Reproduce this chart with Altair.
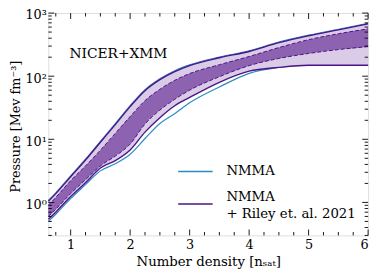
import altair as alt
import pandas as pd

# ---- data ----
n = [0.625, 0.75, 1.0, 1.25, 1.5, 1.75, 2.0, 2.25, 2.5, 2.75, 3.0, 3.5, 4.0, 4.5, 5.0, 5.5, 6.0]
outer_hi = [1.04, 1.38, 2.55, 4.70, 8.98, 17.1, 33.0, 59.0, 88.0, 118.0, 147, 196, 246, 340, 437, 542, 673]
inner_hi = [0.90, 1.20, 2.21, 3.79, 6.73, 12.4, 22.9, 41.0, 62.0, 86.0, 110.0, 152, 205, 284, 379, 470, 562]
inner_lo = [0.60, 0.78, 1.38, 2.29, 3.79, 5.42, 8.4, 17.5, 29.0, 43.0, 60.0, 98, 147, 191, 229, 264, 294]
outer_lo = [0.54, 0.70, 1.24, 2.05, 3.52, 4.60, 6.8, 13.0, 22.0, 34.0, 46.0, 80.0, 120, 138, 149, 149, 149]
nmma_lo = [0.50, 0.65, 1.15, 1.91, 3.16, 4.10, 5.8, 10.3, 17.8, 25.5, 37.8, 67.3, 111, 138, 149, 149, 149]
nmma_hi = [1.07, 1.42, 2.63, 4.85, 9.3, 17.7, 34.0, 61.0, 91.0, 122, 151, 201, 252, 348, 447, 555, 690]

series_names = ["NMMA", "NMMA", "+ Riley et. al. 2021"]
series_colors = ["#2b8cc4", "#4a1486"]

x_major = [1, 2, 3, 4, 5, 6]
x_minor = [0.75, 1.25, 1.5, 1.75, 2.25, 2.5, 2.75, 3.25, 3.5, 3.75, 4.25, 4.5, 4.75, 5.25, 5.5, 5.75]
y_major = [1, 10, 100, 1000]
y_minor = [0.3, 0.4, 0.5, 0.6, 0.7, 0.8, 0.9,
           2, 3, 4, 5, 6, 7, 8, 9,
           20, 30, 40, 50, 60, 70, 80, 90,
           200, 300, 400, 500, 600, 700, 800, 900]

annotation = "NICER+XMM"

# ---- styling ----
W, H = 325, 226
FONT = "DejaVu Serif"
LIGHT = "#dacbe6"
DARK = "#8d62b0"
LINE = "#4a1486"
BLUE = series_colors[0]
MAJ, MIN = 6, 3.5

df = pd.DataFrame({"n": n, "outer_hi": outer_hi, "inner_hi": inner_hi, "inner_lo": inner_lo,
                   "outer_lo": outer_lo, "nmma_lo": nmma_lo, "nmma_hi": nmma_hi})

xscale = alt.Scale(domain=[0.625, 6], nice=False, zero=False)
yscale = alt.Scale(type="log", domain=[0.3, 1000], nice=False)

xaxis = alt.Axis(values=x_major, format="d", ticks=False, domain=False, grid=False,
                 labelPadding=3, labelFontSize=13, labelFont=FONT, labelColor="black",
                 title="Number density [nₛₐₜ]", titleFont=FONT, titleFontSize=13.5,
                 titleFontWeight="normal", titleColor="black", titleBaseline="alphabetic", titleY=31)
yaxis = alt.Axis(values=y_major, ticks=False, domain=False, grid=False,
                 labelExpr="datum.value == 1 ? '10⁰' : datum.value == 10 ? '10¹' : datum.value == 100 ? '10²' : '10³'",
                 labelPadding=2, labelFontSize=13, labelFont=FONT, labelColor="black", labelOffset=2,
                 title="Pressure [Mev fm⁻³]", titleFont=FONT, titleFontSize=13,
                 titleFontWeight="normal", titleColor="black", titleAngle=270,
                 titleBaseline="alphabetic", titleAlign="center", titleX=-29, titleY=115)


def X(field="n"):
    return alt.X(f"{field}:Q", scale=xscale, axis=xaxis)


def Y(field):
    return alt.Y(f"{field}:Q", scale=yscale, axis=yaxis)


light_band = alt.Chart(df).mark_area(color=LIGHT, interpolate="monotone").encode(
    x=X(), y=Y("outer_lo"), y2="outer_hi")
dark_band = alt.Chart(df).mark_area(color=DARK, interpolate="monotone").encode(
    x=X(), y=Y("inner_lo"), y2="inner_hi")

blue_long = pd.concat([
    pd.DataFrame({"n": n, "P": nmma_lo, "curve": "lo"}),
    pd.DataFrame({"n": n, "P": nmma_hi, "curve": "hi"}),
])
purple_long = pd.concat([
    pd.DataFrame({"n": n, "P": outer_lo, "curve": "lo"}),
    pd.DataFrame({"n": n, "P": outer_hi, "curve": "hi"}),
])
dashed_long = pd.concat([
    pd.DataFrame({"n": n, "P": inner_lo, "curve": "lo"}),
    pd.DataFrame({"n": n, "P": inner_hi, "curve": "hi"}),
])

blue_lines = alt.Chart(blue_long).mark_line(strokeWidth=1.2, color=BLUE, interpolate="monotone").encode(
    x=X(), y=Y("P"), detail="curve:N")
purple_lines = alt.Chart(purple_long).mark_line(strokeWidth=1.4, color=LINE, interpolate="monotone").encode(
    x=X(), y=Y("P"), detail="curve:N")
dashed_lines = alt.Chart(dashed_long).mark_line(strokeWidth=1.0, color=LINE, strokeDash=[4, 2],
                                                interpolate="monotone").encode(
    x=X(), y=Y("P"), detail="curve:N")

text = alt.Chart(pd.DataFrame({"n": [0.98], "P": [191], "t": [annotation]})).mark_text(
    align="left", baseline="alphabetic", font=FONT, fontSize=14, color="black").encode(
    x=X(), y=Y("P"), text="t:N")

# ---- legend (drawn inside the plot, lower right) ----
leg_df = pd.DataFrame({"k": [0]})
LX0, LX1, LTX = 132, 167, 181
legend_layers = [
    alt.Chart(leg_df).mark_rule(color=BLUE, strokeWidth=1.5).encode(
        x=alt.value(LX0), x2=alt.value(LX1), y=alt.value(161)),
    alt.Chart(leg_df).mark_rule(color=LINE, strokeWidth=1.5).encode(
        x=alt.value(LX0), x2=alt.value(LX1), y=alt.value(194)),
    alt.Chart(leg_df).mark_text(text=series_names[0], align="left", baseline="middle", font=FONT,
                                fontSize=13.5, color="black").encode(x=alt.value(LTX), y=alt.value(161)),
    alt.Chart(leg_df).mark_text(text=series_names[1], align="left", baseline="middle", font=FONT,
                                fontSize=13.5, color="black").encode(x=alt.value(LTX), y=alt.value(187)),
    alt.Chart(leg_df).mark_text(text=series_names[2], align="left", baseline="middle", font=FONT,
                                fontSize=13.5, color="black").encode(x=alt.value(LTX), y=alt.value(204)),
]

# inward ticks on all four sides
xmaj_df = pd.DataFrame({"n": x_major})
xmin_df = pd.DataFrame({"n": x_minor})
ymaj_df = pd.DataFrame({"P": y_major})
ymin_df = pd.DataFrame({"P": y_minor})
tick_style = dict(color="black", strokeWidth=0.9)
ticks = [
    alt.Chart(xmaj_df).mark_rule(**tick_style).encode(x=X(), y=alt.value(H), y2=alt.value(H - MAJ)),
    alt.Chart(xmaj_df).mark_rule(**tick_style).encode(x=X(), y=alt.value(0), y2=alt.value(MAJ)),
    alt.Chart(xmin_df).mark_rule(**tick_style).encode(x=X(), y=alt.value(H), y2=alt.value(H - MIN)),
    alt.Chart(xmin_df).mark_rule(**tick_style).encode(x=X(), y=alt.value(0), y2=alt.value(MIN)),
    alt.Chart(ymaj_df).mark_rule(**tick_style).encode(y=Y("P"), x=alt.value(0), x2=alt.value(MAJ)),
    alt.Chart(ymaj_df).mark_rule(**tick_style).encode(y=Y("P"), x=alt.value(W - MAJ), x2=alt.value(W)),
    alt.Chart(ymin_df).mark_rule(**tick_style).encode(y=Y("P"), x=alt.value(0), x2=alt.value(MIN)),
    alt.Chart(ymin_df).mark_rule(**tick_style).encode(y=Y("P"), x=alt.value(W - MIN), x2=alt.value(W)),
]

chart = alt.layer(
    blue_lines, light_band, dark_band, dashed_lines, purple_lines, text, *legend_layers, *ticks
).properties(
    width=W, height=H,
    autosize=alt.AutoSizeParams(type="none"),
    padding={"left": 41, "top": 3, "right": 6, "bottom": 34},
).configure_view(stroke="black", strokeWidth=1).configure(background="white")

chart.save("out.html", embed_options={"renderer": "svg", "actions": False})
